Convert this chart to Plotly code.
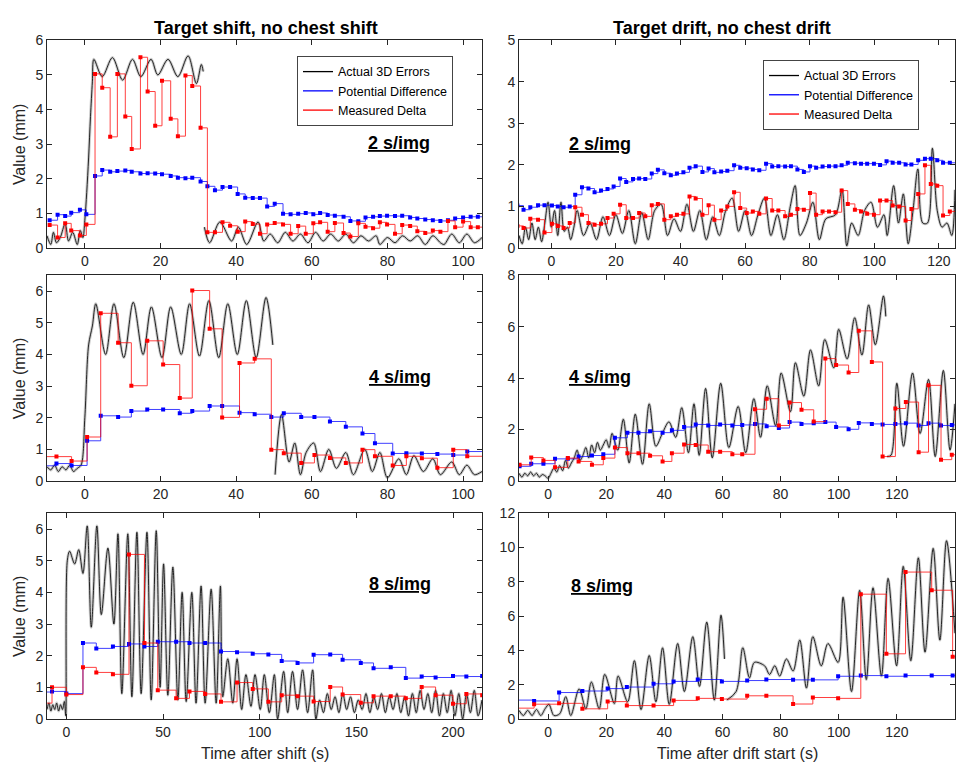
import plotly.graph_objects as go
from plotly.subplots import make_subplots

FONT = "Arial, 'Liberation Sans', sans-serif"

# ---------------- Panel 1: Target shift, 2 s/img ----------------
t1 = [-9.3, -7.2, -5.2, -3.6, -1.3, 0.4, 2.7, 4.6, 6.7, 8.6,
      10.7, 12.4, 14.7, 16.6, 18.6, 20.4, 22.7, 24.6, 26.6, 28.4,
      30.6, 32.4, 34.4, 36.4, 38.4, 40.4, 42.4, 44.4, 46.3, 48.2,
      50.2, 52.4, 54.4, 56.4, 58.4, 60.4, 62.2, 64.2, 66.1, 68.4,
      70.2, 72.3, 74.2, 76.2, 78.0, 79.9, 82.0, 83.9, 86.0, 87.9,
      90.0, 92.0, 94.0, 96.0, 97.9, 100.0, 102.0, 103.9]
blue1 = [0.80, 0.96, 0.92, 1.02, 1.10, 0.97, 2.08, 2.25, 2.20, 2.22,
         2.24, 2.20, 2.15, 2.16, 2.15, 2.13, 2.08, 2.03, 2.01, 2.03,
         1.92, 1.78, 1.67, 1.76, 1.76, 1.56, 1.45, 1.44, 1.44, 1.20,
         1.28, 0.99, 0.97, 0.99, 1.01, 0.97, 1.01, 0.95, 0.93, 0.90,
         0.78, 0.77, 0.88, 0.90, 0.92, 0.93, 0.92, 0.93, 0.88, 0.85,
         0.82, 0.80, 0.78, 0.80, 0.85, 0.88, 0.90, 0.90]
red1 = [0.66, 0.30, 0.71, 0.50, 0.36, 0.68, 5.03, 4.63, 3.21, 5.03,
        3.80, 2.86, 5.51, 4.52, 3.53, 4.83, 3.73, 3.23, 4.98, 4.68,
        3.47, 0.45, 0.45, 0.74, 0.64, 0.47, 0.76, 0.69, 0.41, 0.68,
        0.72, 0.68, 0.41, 0.63, 0.41, 0.71, 0.74, 0.47, 0.72, 0.43,
        0.33, 0.71, 0.61, 0.57, 0.74, 0.68, 0.41, 0.66, 0.63, 0.48,
        0.43, 0.50, 0.47, 0.78, 0.60, 0.76, 0.60, 0.60]
bx1 = [-10, -9, -8.3, -7.5, -6.5, -5.2, -4.3, -3.2, -2, -1.2,
       -0.5, 0, 0.5, 1, 1.5, 2, 2.4, 4.6, 7.3, 10,
       12.6, 14.8, 17.5, 19.3, 22, 24.6, 27.3, 29.5, 30.8, 31.3,
       None, 31.6, 33, 35.7, 38.8, 40.6, 42.8, 45.8, 47.3, 49,
       51, 53, 55, 57, 59, 61, 63, 65, 67, 69,
       71, 73, 75, 77, 78, 80, 82, 84, 86, 88,
       90, 92, 94, 95, 97, 99, 101, 103, 105]
by1 = [0.35, 0.1, 0.45, 0.15, 0.3, 0.7, 0.2, 0.45, 0.1, 0.5,
       0.3, 0.8, 1.6, 2.6, 3.8, 4.8, 5.45, 4.95, 5.5, 4.85,
       5.45, 4.95, 5.45, 5.0, 5.45, 4.95, 5.55, 4.75, 5.3, 5.1,
       None, 0.6, 0.15, 0.75, 0.2, 0.6, 0.1, 0.75, 0.2, 0.4,
       0.15, 0.45, 0.2, 0.4, 0.15, 0.45, 0.2, 0.4, 0.2, 0.4,
       0.15, 0.35, 0.2, 0.35, 0.1, 0.3, 0.15, 0.35, 0.2, 0.35,
       0.1, 0.35, 0.15, 0.1, 0.4, 0.15, 0.4, 0.15, 0.3]

# ---------------- Panel 2: Target drift, 2 s/img ----------------
t2 = [-10.5, -8.6, -6.5, -4.1, -2.1, 0.2, 2.0, 3.8, 5.7, 7.4,
      9.5, 11.5, 13.4, 15.4, 17.4, 19.3, 21.3, 23.2, 25.3, 27.2,
      29.1, 31.1, 33.0, 35.0, 37.0, 38.9, 40.9, 42.8, 44.7, 46.8,
      48.7, 50.5, 52.6, 54.5, 56.6, 58.5, 60.5, 62.4, 64.4, 66.5,
      68.4, 70.3, 72.4, 74.2, 76.2, 78.2, 80.1, 82.0, 84.0, 86.0,
      88.0, 89.9, 91.8, 94.0, 95.9, 97.8, 99.9, 101.8, 103.8, 105.7,
      107.7, 109.7, 111.5, 113.6, 115.7, 117.5, 119.5, 121.3, 123.4]
blue2 = [1.02, 0.92, 0.98, 1.03, 1.03, 1.02, 1.00, 0.98, 1.00, 1.28,
         1.46, 1.43, 1.34, 1.38, 1.42, 1.48, 1.67, 1.59, 1.66, 1.67,
         1.66, 1.79, 1.88, 1.80, 1.75, 1.79, 1.82, 1.93, 1.97, 1.83,
         1.91, 1.82, 1.84, 1.86, 1.99, 1.93, 1.92, 1.89, 1.87, 2.03,
         1.96, 1.97, 1.96, 1.97, 1.89, 1.83, 1.97, 1.93, 1.96, 1.97,
         1.97, 1.99, 2.05, 2.04, 2.03, 2.03, 2.03, 2.00, 2.09, 2.05,
         2.05, 2.01, 2.01, 2.11, 2.15, 2.15, 2.11, 2.05, 2.05]
red2 = [0.53, 0.48, 0.70, 0.68, 0.37, 0.58, 0.53, 0.48, 0.60, 0.98,
        0.80, 0.60, 0.56, 0.58, 0.72, 0.82, 1.04, 0.72, 0.72, 0.84,
        0.76, 1.03, 1.06, 0.68, 0.76, 0.80, 0.82, 1.24, 1.19, 0.80,
        1.03, 0.68, 0.90, 1.00, 1.34, 0.96, 0.84, 0.88, 0.82, 1.19,
        0.90, 0.90, 0.76, 0.80, 0.94, 0.92, 1.32, 0.80, 0.88, 0.88,
        0.86, 1.38, 1.06, 0.92, 0.88, 0.82, 0.80, 1.14, 1.14, 1.02,
        1.00, 0.66, 0.94, 1.30, 1.99, 1.54, 1.50, 0.78, 0.88]
bx2 = [-10, -9, -8, -7, -6, -5, -4, -3, -2, -1,
       0, 1, 2, 3, 4, 5, 6, 7, 8, 10,
       12, 14, 16, 18, 20, 22, 24, 26, 28, 30,
       32, 34, 36, 38, 40, 42, 44, 46, 48, 50,
       52, 54, 56, 58, 60, 62, 64, 66, 68, 70,
       72, 74, 75.5, 77, 79, 81, 83, 85, 88, 90,
       91.5, 93, 95, 97, 99, 101, 103, 104, 106, 107.5,
       109, 110.5, 112, 113.5, 115, 116.5, 118, 119.5, 121, 122.5,
       124, 125]
by2 = [0.3, 0.1, 0.5, 0.2, 0.6, 0.2, 0.5, 0.15, 0.6, 1.1,
       0.5, 0.9, 0.3, 1.1, 0.4, 0.5, 0.2, 0.5, 0.9, 0.3,
       0.6, 0.2, 0.75, 0.3, 0.8, 0.35, 0.9, 0.1, 0.85, 0.2,
       0.9, 1.05, 0.3, 0.7, 0.4, 1.05, 0.4, 0.9, 0.2, 0.75,
       0.3, 0.9, 1.2, 0.4, 0.9, 0.3, 0.8, 1.2, 0.3, 0.8,
       0.2, 1.0, 1.5, 0.3, 0.6, 1.1, 0.2, 0.7, 0.8, 1.4,
       0.05, 0.6, 0.3, 0.9, 1.1, 0.5, 0.8, 0.3, 1.5, 0.6,
       1.3, 0.1, 0.9, 1.9, 0.6, 0.6, 2.4, 0.9, 0.5, 0.6,
       0.3, 1.4]

# ---------------- Panel 3: Target shift, 4 s/img ----------------
t3 = [-11.5, -7.5, -3.5, 0.6, 4.2, 8.8, 12.3, 16.5, 20.7, 25.1,
      28.4, 33.0, 36.3, 40.9, 44.9, 49.3, 52.6, 57.2, 60.7, 64.8,
      69.0, 73.4, 76.7, 81.4, 85.0, 89.1, 93.2, 97.4, 101.1]
blue3 = [0.48, 0.55, 0.49, 1.27, 2.06, 2.02, 2.21, 2.26, 2.26, 2.14,
         2.21, 2.37, 2.37, 2.16, 2.11, 2.02, 2.14, 2.02, 2.02, 1.88,
         1.71, 1.50, 1.19, 0.87, 0.88, 0.87, 0.85, 0.82, 0.93]
red3 = [0.77, 0.77, 0.63, 1.39, 5.30, 4.37, 3.01, 4.43, 3.68, 2.62,
        6.02, 4.81, 2.01, 3.73, 3.86, 0.99, 0.88, 0.57, 0.82, 0.73,
        0.57, 0.99, 0.78, 0.49, 0.78, 0.72, 0.42, 0.99, 0.78]
bx3 = [-10, -9, -8, -7, -6, -5, -4, -3, -2, -1,
       0, 1, 2, 2.9, 5.5, 7.7, 10.3, 12.8, 15.4, 17.6,
       20.4, 22.7, 25.5, 27.7, 30.3, 32.8, 35.4, 37.8, 40.3, 42.7,
       45.3, 47.9, 49.7, None, 50.3, 52, 54, 55.5, 57, 58.5,
       60.5, 62.3, 64.5, 66.5, 69, 71, 74, 76, 78, 80,
       83, 85, 87, 89.5, 92, 94, 97, 99, 101, 103,
       105]
by3 = [0.45, 0.35, 0.5, 0.3, 0.45, 0.35, 0.5, 0.3, 0.4, 0.5,
       2.0, 4.3, 4.9, 5.6, 4.0, 5.6, 3.9, 5.65, 4.0, 5.5,
       3.9, 5.5, 4.0, 5.6, 3.95, 5.7, 3.9, 5.6, 4.0, 5.7,
       3.9, 5.8, 4.3, None, 0.2, 2.1, 0.6, 1.2, 0.2, 0.9,
       1.2, 0.3, 1.0, 0.4, 0.9, 0.2, 1.0, 0.3, 0.9, 0.1,
       0.7, 0.2, 0.8, 0.3, 0.7, 0.2, 0.6, 0.2, 0.5, 0.2,
       0.3]

# ---------------- Panel 4: Target drift, 4 s/img ----------------
t4 = [-9.8, -5.8, -1.6, 2.4, 6.8, 10.5, 15.1, 19.0, 23.0, 27.3,
      31.1, 35.1, 39.4, 42.6, 46.8, 50.8, 55.1, 59.2, 63.4, 66.8,
      71.2, 75.2, 79.4, 83.1, 87.2, 91.4, 95.4, 99.1, 103.4, 106.9,
      111.4, 115.1, 119.5, 123.1, 127.5, 130.9, 135.2, 138.9]
blue4 = [0.57, 0.67, 0.67, 0.86, 0.86, 0.95, 0.99, 1.04, 1.68, 1.88,
         1.88, 1.93, 1.88, 1.97, 2.10, 2.20, 2.16, 2.20, 2.16, 2.18,
         2.22, 2.13, 2.06, 2.29, 2.22, 2.25, 2.29, 2.10, 2.01, 2.26,
         2.22, 2.20, 2.22, 2.25, 2.16, 2.25, 2.16, 2.18]
red4 = [0.63, 0.91, 0.80, 0.53, 0.89, 0.76, 0.63, 0.89, 1.30, 1.08,
        1.08, 0.98, 0.76, 1.08, 1.42, 1.40, 1.14, 1.14, 1.04, 1.04,
        2.79, 3.20, 2.16, 3.05, 2.77, 2.31, 4.76, 4.51, 4.22, 5.84,
        4.63, 0.95, 2.82, 3.07, 1.12, 3.72, 0.83, 1.02]
bx4 = [-10, -9, -8, -7, -6, -5, -4, -3, -2, -1,
       0, 1, 2, 3, 4, 5, 6, 7, 8, 9,
       10, 11, 12, 13, 14, 15, 16, 17, 18, 19,
       20, 21, 22, 23, 24, 25.9, 27.9, 30, 32.5, 34.8,
       37.1, 39.5, 41.6, 43.9, 46, 48.3, 50.2, 52, 54.2, 56.5,
       59.4, 62.2, 65.4, 68, 70.8, 73.1, 75.4, 78.3, 80.2, 83.4,
       85.1, 88, 90.3, 93.1, 95.2, 98.3, 100, 102.9, 105.5, 108,
       110.3, 112.6, 115.4, 116.2, None, 116.6, 118, 120, 122.3, 125.4,
       128, 130.9, 133.2, 136, 138.3, 140]
by4 = [0.3, 0.15, 0.3, 0.2, 0.35, 0.2, 0.3, 0.15, 0.25, 0.2,
       0.1, 0.3, 0.5, 0.35, 0.6, 0.4, 0.8, 0.5, 0.7, 0.9,
       1.2, 0.8, 1.0, 1.3, 0.9, 1.4, 1.1, 1.5, 1.2, 1.4,
       1.6, 1.3, 1.85, 1.5, 1.2, 2.4, 0.7, 2.6, 0.65, 3.0,
       1.35, 1.9, 2.3, 1.7, 2.85, 1.1, 3.0, 1.0, 3.6, 0.9,
       3.8, 1.3, 2.9, 1.1, 3.2, 1.7, 3.7, 2.15, 4.2, 2.7,
       4.6, 3.3, 5.1, 3.7, 5.5, 4.4, 5.9, 4.75, 6.35, 4.9,
       6.85, 5.3, 7.2, 6.4, None, 0.95, 1.0, 3.8, 1.35, 4.2,
       1.85, 3.95, 0.95, 4.3, 1.2, 3.0]

# ---------------- Panel 5: Target shift, 8 s/img ----------------
t5 = [-15.4, -7.4, 0.0, 8.6, 15.5, 24.1, 32.4, 40.4, 47.3, 56.8,
      63.7, 71.8, 80.0, 88.3, 96.4, 104.5, 111.4, 119.6, 127.9, 136.5,
      142.9, 152.3, 158.9, 167.8, 175.6, 183.8, 191.0, 200.0, 206.9, 215.1]
blue5 = [0.85, 0.87, 0.80, 2.40, 2.23, 2.29, 2.37, 2.29, 2.44, 2.44,
         2.40, 2.40, 2.13, 2.11, 2.06, 2.04, 1.83, 1.77, 2.03, 2.04,
         1.87, 1.77, 1.60, 1.63, 1.29, 1.34, 1.31, 1.36, 1.34, 1.36]
red5 = [0.50, 1.00, 0.77, 1.63, 1.47, 1.41, 5.20, 2.40, 0.91, 0.65,
        0.87, 0.79, 0.54, 1.15, 0.95, 0.54, 0.75, 0.72, 0.55, 1.01,
        0.77, 0.51, 0.72, 0.72, 0.65, 1.01, 0.75, 0.48, 0.79, 0.75]
bx5 = [-10, -9, -8, -7, -6, -5, -4, -3, -2, -1,
       -0.3, 0.5, 1.7, 4.3, 6.4, 8.6, 10.8, 12.9, 15.8, 18.1,
       21.5, 24.6, 26.7, 28.7, 31.8, 33.9, 36.5, 38.7, 41.7, 43.9,
       46.5, 48.5, 50.3, 52.5, 55.1, 57.7, 59.9, 62, 64.9, 67.1,
       69.7, 71.8, 74.9, 77.5, 79.7, 80.9, 83.5, 86.1, 88.3, 90.7,
       92.9, 95.5, 97.6, 100.3, 102.4, 105, 107.6, 109.3, 112.4, 114.5,
       117, 119.6, 122.2, 124.8, 127.4, 129.1, 131, 133, 135, 137,
       139, 141, 143, 145, 147, 149, 151, 153, 155, 157,
       159, 161, 163, 165, 167, 169, 171, 173, 175, 177,
       179, 181, 183, 185, 187, 189, 191, 193, 195, 197,
       199, 201, 203, 205, 207, 209, 211, 213, 215]
by5 = [0.3, 0.5, 0.25, 0.45, 0.3, 0.5, 0.25, 0.45, 0.3, 0.55,
       0.1, 5.0, 5.3, 4.9, 5.35, 4.6, 6.1, 2.9, 6.1, 3.3,
       5.4, 3.0, 5.85, 0.8, 5.85, 0.7, 5.9, 0.8, 5.9, 0.6,
       5.95, 1.0, 4.9, 0.75, 4.8, 0.6, 4.0, 0.55, 4.0, 0.5,
       4.2, 0.5, 4.1, 0.5, 4.2, 0.7, 1.9, 0.5, 1.9, 0.3,
       1.4, 0.4, 1.4, 0.3, 1.4, 0.2, 1.4, 0.0, 1.5, 0.2,
       1.5, 0.3, 1.55, 0.2, 1.55, 0.0, 0.6, 0.2, 0.8, 0.3,
       0.7, 0.2, 0.8, 0.3, 0.7, 0.2, 0.6, 0.3, 0.8, 0.2,
       0.7, 0.3, 0.8, 0.2, 0.7, 0.3, 0.8, 0.2, 0.7, 0.1,
       0.8, 0.2, 0.9, 0.3, 0.8, 0.2, 0.9, 0.1, 0.8, 0.2,
       0.9, 0.1, 0.8, 0.0, 0.8, 0.2, 0.9, 0.1, 0.6]

# ---------------- Panel 6: Target drift, 8 s/img ----------------
t6 = [-12.5, -4.8, 3.8, 11.8, 20.5, 27.1, 36.3, 43.2, 51.5, 59.8,
      68.5, 75.1, 84.3, 91.1, 99.8, 107.6, 116.4, 123.0, 132.0, 139.2]
blue6 = [1.10, 1.05, 1.54, 1.63, 1.77, 1.86, 2.05, 2.19, 2.30, 2.19,
         2.24, 2.30, 2.28, 2.28, 2.49, 2.53, 2.49, 2.53, 2.53, 2.53]
red6 = [0.63, 0.86, 0.91, 0.59, 1.01, 0.78, 0.78, 1.08, 1.20, 1.16,
        1.35, 1.35, 0.87, 1.25, 1.20, 7.28, 3.80, 8.57, 7.51, 3.63]
bx6 = [-10, -8.5, -7, -5.5, -4, -2.5, -1, 0.3, 2, 4,
       6.1, 7.8, 10.7, 13, 14.9, 17.6, 19.5, 22.8, 24.1, 27.4,
       29.7, 32, 34.8, 37.1, 39.4, 41.7, 44.6, 46.9, 49.8, 52.1,
       54.6, 57.2, 59.5, 60.7, None, 61.5, 64.7, 67, 69.3, 71,
       74.5, 76.2, 78, 79.7, 82, 84.3, 86.6, 88.9, 91.1, 94,
       96.3, 99.8, 101.5, 104.4, 107.2, 109.5, 111.8, 114.7, 117, 119.9,
       122.2, 124.8, 127.4, 129.7, 132.5, 134.8, 137.1, 140]
by6 = [0.5, 0.2, 0.5, 0.2, 0.55, 0.2, 0.6, 0.85, 0.2, 0.3,
       1.3, 0.2, 1.75, 0.6, 2.15, 0.6, 2.6, 0.9, 2.5, 1.0,
       3.4, 0.55, 3.7, 1.0, 4.15, 0.85, 4.4, 1.6, 4.8, 1.9,
       5.65, 1.1, 6.05, 3.5, None, 1.1, 1.6, 4.15, 2.4, 3.3,
       3.1, 2.6, 3.1, 2.5, 3.5, 2.8, 4.6, 1.8, 4.8, 3.1,
       4.4, 3.3, 7.1, 1.6, 7.5, 2.3, 7.65, 2.5, 8.2, 3.1,
       8.9, 3.4, 9.4, 3.9, 9.95, 4.6, 10.4, 5.0]

# ---------------- Axes / labels ----------------
x_ranges = [[-10, 105], [-10, 125], [-10, 105], [-10, 140.01], [-10, 215], [-10, 140.01]]
y_ranges = [[0, 6], [0, 5], [0, 6.5], [0, 8], [0, 6.5], [0, 12]]
x_ticks = [[0, 20, 40, 60, 80, 100], [0, 20, 40, 60, 80, 100, 120],
           [0, 20, 40, 60, 80, 100], [0, 20, 40, 60, 80, 100, 120, 140],
           [0, 50, 100, 150, 200], [0, 20, 40, 60, 80, 100, 120, 140]]
y_ticks = [[0, 1, 2, 3, 4, 5, 6], [0, 1, 2, 3, 4, 5], [0, 1, 2, 3, 4, 5, 6],
           [0, 2, 4, 6, 8], [0, 1, 2, 3, 4, 5, 6], [0, 2, 4, 6, 8, 10, 12]]
rate_labels = ["2 s/img", "2 s/img", "4 s/img", "4 s/img", "8 s/img", "8 s/img"]
col_titles = ["Target shift, no chest shift", "Target drift, no chest drift"]
x_titles = ["Time after shift (s)", "Time after drift start (s)"]
y_title = "Value (mm)"
series_names = ["Actual 3D Errors", "Potential Difference", "Measured Delta"]

assert all(len(a) == len(b) for a, b in [(t1, blue1), (t1, red1), (bx1, by1), (t2, blue2), (t2, red2), (bx2, by2),
                                         (t3, blue3), (t3, red3), (bx3, by3), (t4, blue4), (t4, red4), (bx4, by4),
                                         (t5, blue5), (t5, red5), (bx5, by5), (t6, blue6), (t6, red6), (bx6, by6)])

panels = [(t1, blue1, red1, bx1, by1), (t2, blue2, red2, bx2, by2),
          (t3, blue3, red3, bx3, by3), (t4, blue4, red4, bx4, by4),
          (t5, blue5, red5, bx5, by5), (t6, blue6, red6, bx6, by6)]

BLUE = "#0000ff"
RED = "#ff0000"
W, H = 965, 771

fig = make_subplots(rows=3, cols=2)

for i, (t, blue, red, bx, by) in enumerate(panels):
    row, col = i // 2 + 1, i % 2 + 1
    xend = x_ranges[i][1] + 5
    # black measured error trace (fuzzy band + core)
    fig.add_trace(go.Scatter(x=bx, y=by, mode="lines",
                             line=dict(color="rgba(0,0,0,0.2)", width=3, shape="spline", smoothing=0.9),
                             showlegend=False, hoverinfo="skip"), row=row, col=col)
    fig.add_trace(go.Scatter(x=bx, y=by, mode="lines",
                             line=dict(color="#111111", width=0.9, shape="spline", smoothing=0.9),
                             showlegend=False), row=row, col=col)
    for vals, colr in [(blue, BLUE), (red, RED)]:
        fig.add_trace(go.Scatter(x=list(t) + [xend], y=list(vals) + [vals[-1]], mode="lines",
                                 line=dict(color=colr, width=1, shape="hv"), opacity=0.75,
                                 showlegend=False, hoverinfo="skip"), row=row, col=col)
        fig.add_trace(go.Scatter(x=t, y=vals, mode="markers",
                                 marker=dict(color=colr, size=4, symbol="square"),
                                 showlegend=False), row=row, col=col)

# legend-only traces
for leg in ["legend", "legend2"]:
    for name, colr in zip(series_names, ["#000000", BLUE, RED]):
        fig.add_trace(go.Scatter(x=[None], y=[None], mode="lines", name=name,
                                 line=dict(color=colr, width=1.3), legend=leg, showlegend=True))

# domains in pixels
col_px = [(47, 482), (519, 955)]
row_px = [(33, 245), (273, 483), (516, 726)]

axis_common = dict(showline=True, linecolor="#262626", linewidth=1, mirror="ticks",
                   ticks="inside", ticklen=5, tickcolor="#262626", showgrid=False, zeroline=False,
                   tickfont=dict(family=FONT, size=14, color="#262626"))

layout_updates = {}
for i in range(6):
    r, c = i // 2, i % 2
    n = "" if i == 0 else str(i + 1)
    x0, x1 = col_px[c]
    y0, y1 = row_px[r]
    layout_updates["xaxis" + n] = dict(domain=[x0 / W, x1 / W], range=x_ranges[i],
                                       tickvals=x_ticks[i], **axis_common)
    layout_updates["yaxis" + n] = dict(domain=[1 - y1 / H, 1 - y0 / H], range=y_ranges[i],
                                       tickvals=y_ticks[i], **axis_common)
fig.update_layout(**layout_updates)

annotations = []
rate_pos = [(399, 138), (600, 139), (400, 377), (600, 377), (400, 588), (602, 590)]
for lbl, (px, py) in zip(rate_labels, rate_pos):
    annotations.append(dict(text="<b><u>" + lbl + "</u></b>", x=px / W, y=1 - py / H, xref="paper",
                            yref="paper", showarrow=False, font=dict(family=FONT, size=18, color="black"),
                            xanchor="center", yanchor="middle"))
for title, px in zip(col_titles, [266, 722]):
    annotations.append(dict(text="<b>" + title + "</b>", x=px / W, y=1 - 20 / H, xref="paper", yref="paper",
                            showarrow=False, font=dict(family=FONT, size=18, color="black"),
                            xanchor="center", yanchor="middle"))
for title, px in zip(x_titles, [265, 737]):
    annotations.append(dict(text=title, x=px / W, y=1 - 761 / H, xref="paper", yref="paper",
                            showarrow=False, font=dict(family=FONT, size=16, color="#262626"),
                            xanchor="center", yanchor="middle"))
for r in range(3):
    y0, y1 = row_px[r]
    annotations.append(dict(text=y_title, x=19 / W, y=1 - (y0 + y1) / 2 / H, xref="paper", yref="paper",
                            showarrow=False, textangle=-90, font=dict(family=FONT, size=16, color="#262626"),
                            xanchor="center", yanchor="middle"))

legend_common = dict(xanchor="left", yanchor="top", bgcolor="white", bordercolor="#444444", borderwidth=1,
                     font=dict(family=FONT, size=12.5, color="black"), tracegroupgap=0, itemwidth=30)
fig.update_layout(
    width=W, height=H,
    margin=dict(l=0, r=0, t=0, b=0),
    paper_bgcolor="white", plot_bgcolor="white",
    font=dict(family=FONT, color="#262626"),
    annotations=annotations,
    legend=dict(x=297 / W, y=1 - 49 / H, **legend_common),
    legend2=dict(x=763 / W, y=1 - 53 / H, **legend_common),
)

fig.write_html("out.html", config={"displayModeBar": False},
               post_script="document.body.style.margin='0';document.body.style.overflow='hidden';")
